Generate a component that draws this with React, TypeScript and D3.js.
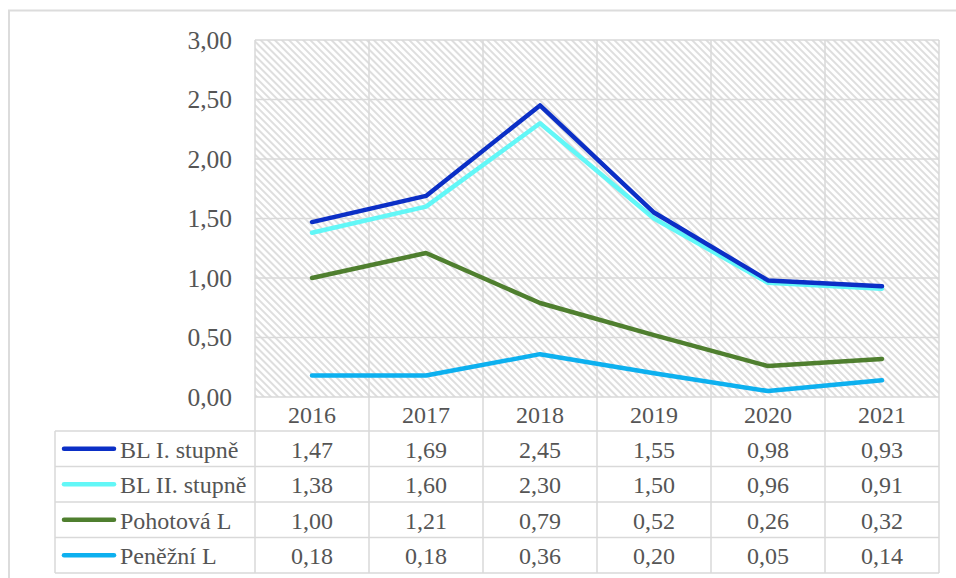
import React from "react";
import * as d3 from "d3";

// Years shown along the category axis and as table header
const years = ["2016", "2017", "2018", "2019", "2020", "2021"];

// Liquidity ratios per year
const blI = [1.47, 1.69, 2.45, 1.55, 0.98, 0.93];
const blII = [1.38, 1.6, 2.3, 1.5, 0.96, 0.91];
const pohotova = [1.0, 1.21, 0.79, 0.52, 0.26, 0.32];
const penezni = [0.18, 0.18, 0.36, 0.2, 0.05, 0.14];

const seriesNames = ["BL I. stupně", "BL II. stupně", "Pohotová L", "Peněžní L"];
const seriesColors = ["#0b2fc6", "#62f7f7", "#4f7f2f", "#0db0ef"];

const yTicks = [0, 0.5, 1, 1.5, 2, 2.5, 3];

const W = 956;
const H = 578;
const plotLeft = 255;
const plotRight = 939;
const plotTop = 40;
const plotBottom = 397;
const legendLeft = 55;
const headerBottom = 431;
const rowH = 35.5;

const FONT = "'Liberation Serif', 'Times New Roman', serif";
const TEXT = "#555555";
const GRID = "#d9d9d9";

export default function App() {
  const series = [blI, blII, pohotova, penezni];

  const x = d3.scaleBand<string>().domain(years).range([plotLeft, plotRight]);
  const y = d3.scaleLinear().domain([0, 3]).range([plotBottom, plotTop]);
  const fmt = (v: number) => d3.format(".2f")(v).replace(".", ",");

  const line = d3
    .line<number>()
    .x((_, i) => (x(years[i]) as number) + x.bandwidth() / 2)
    .y((d) => y(d));

  const colEdges = years.map((yr) => x(yr) as number).concat([plotRight]);
  const rowEdges = d3.range(5).map((i) => headerBottom + i * rowH);
  const tableBottom = rowEdges[rowEdges.length - 1];

  return (
    <svg
      width={W}
      height={H}
      style={{ position: "absolute", left: 0, top: 0, background: "#fff" }}
      fontFamily={FONT}
    >
      <defs>
        <pattern
          id="hatch"
          patternUnits="userSpaceOnUse"
          width={5}
          height={5}
          patternTransform="rotate(-45)"
        >
          <rect width={5} height={5} fill="#fff" />
          <line x1={1} y1={0} x2={1} y2={5} stroke="#d6d6d6" strokeWidth={1.6} />
        </pattern>
      </defs>

      {/* chart frame */}
      <rect x={9} y={10.5} width={980} height={600} fill="none" stroke="#dcdcdc" strokeWidth={2} />

      {/* hatched plot area */}
      <rect
        x={plotLeft}
        y={plotTop}
        width={plotRight - plotLeft}
        height={plotBottom - plotTop}
        fill="url(#hatch)"
      />

      {/* horizontal gridlines */}
      {yTicks.map((t) => (
        <line
          key={"h" + t}
          x1={plotLeft}
          x2={plotRight}
          y1={y(t)}
          y2={y(t)}
          stroke={GRID}
          strokeWidth={1.5}
        />
      ))}

      {/* vertical column lines through plot and table header */}
      {colEdges.map((cx, i) => (
        <line
          key={"v" + i}
          x1={cx}
          x2={cx}
          y1={plotTop}
          y2={tableBottom}
          stroke={GRID}
          strokeWidth={1.5}
        />
      ))}

      {/* y axis labels */}
      {yTicks.map((t) => (
        <text
          key={"yl" + t}
          x={232}
          y={y(t)}
          textAnchor="end"
          dominantBaseline="central"
          fontSize={25.5}
          fill={TEXT}
        >
          {fmt(t)}
        </text>
      ))}

      {/* data table grid */}
      {rowEdges.map((ry, i) => (
        <line
          key={"r" + i}
          x1={legendLeft}
          x2={plotRight}
          y1={ry}
          y2={ry}
          stroke={GRID}
          strokeWidth={1.5}
        />
      ))}
      <line x1={legendLeft} x2={legendLeft} y1={headerBottom} y2={tableBottom} stroke={GRID} strokeWidth={1.5} />

      {/* year header */}
      {years.map((yr) => (
        <text
          key={"yr" + yr}
          x={(x(yr) as number) + x.bandwidth() / 2}
          y={(plotBottom + headerBottom) / 2 + 1}
          textAnchor="middle"
          dominantBaseline="central"
          fontSize={24}
          fill={TEXT}
        >
          {yr}
        </text>
      ))}

      {/* table rows: legend key + values */}
      {series.map((vals, si) => {
        const cy = rowEdges[si] + rowH / 2 + 1;
        return (
          <g key={"row" + si}>
            <line
              x1={64}
              x2={114}
              y1={cy - 1}
              y2={cy - 1}
              stroke={seriesColors[si]}
              strokeWidth={4.5}
              strokeLinecap="round"
            />
            <text x={120} y={cy} dominantBaseline="central" fontSize={24} fill={TEXT}>
              {seriesNames[si]}
            </text>
            {vals.map((v, i) => (
              <text
                key={i}
                x={(x(years[i]) as number) + x.bandwidth() / 2}
                y={cy}
                textAnchor="middle"
                dominantBaseline="central"
                fontSize={24}
                fill={TEXT}
              >
                {fmt(v)}
              </text>
            ))}
          </g>
        );
      })}

      {/* series lines */}
      {series
        .map((vals, si) => ({ vals, si }))
        .reverse()
        .map(({ vals, si }) => (
          <path
            key={"s" + si}
            d={line(vals) || ""}
            fill="none"
            stroke={seriesColors[si]}
            strokeWidth={4.5}
            strokeLinejoin="round"
            strokeLinecap="round"
          />
        ))}
    </svg>
  );
}
